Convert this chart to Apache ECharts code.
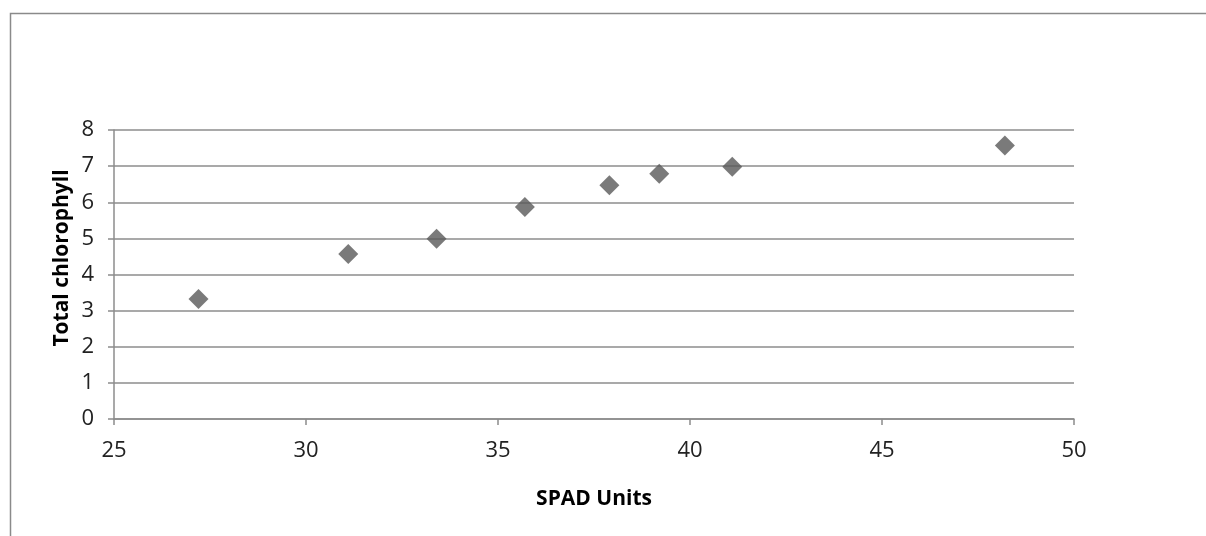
<!DOCTYPE html>
<html>
<head>
<meta charset="utf-8">
<script src="https://cdn.jsdelivr.net/npm/echarts@6/dist/echarts.min.js"></script>
<style>html,body{margin:0;padding:0;background:#fff;}#c{width:1206px;height:536px;}</style>
</head>
<body>
<div id="c"></div>
<script>
const spadUnits = [27.2, 31.1, 33.4, 35.7, 37.9, 39.2, 41.1, 48.2];
const totalChlorophyll = [3.32, 4.57, 4.99, 5.87, 6.47, 6.79, 6.98, 7.57];
const xTitle = 'SPAD Units';
const yTitle = 'Total chlorophyll';

const points = spadUnits.map((x, i) => [x, totalChlorophyll[i]]);
const font = '"Open Sans", "Liberation Sans", sans-serif';
const chart = echarts.init(document.getElementById('c'), null, {renderer: 'canvas'});
chart.setOption({
  animation: false,
  backgroundColor: '#fff',
  grid: {left: 114, right: 132, top: 130, bottom: 117, containLabel: false},
  graphic: [
    {type: 'rect', left: 8, top: 11, shape: {width: 1210, height: 540},
     style: {fill: 'none', stroke: '#8a8a8a', lineWidth: 1.5}, silent: true},
    {type: 'text', x: 62, y: 258, rotation: Math.PI / 2,
     style: {text: yTitle, font: 'bold 21px ' + font, fill: '#000', align: 'center', verticalAlign: 'middle'}}
  ],
  xAxis: {
    type: 'value', min: 25, max: 50, interval: 5,
    name: xTitle, nameLocation: 'middle', nameGap: 70,
    nameTextStyle: {fontFamily: font, fontWeight: 'bold', fontSize: 21, color: '#000'},
    axisLine: {show: true, lineStyle: {color: '#8c8c8c', width: 1.5}},
    axisTick: {show: true, length: 6, lineStyle: {color: '#8c8c8c', width: 1.5}},
    axisLabel: {fontFamily: font, fontSize: 22, color: '#222', margin: 21},
    splitLine: {show: false}
  },
  yAxis: {
    type: 'value', min: 0, max: 8, interval: 1,
    axisLine: {show: true, lineStyle: {color: '#8c8c8c', width: 1.5}},
    axisTick: {show: true, length: 6, lineStyle: {color: '#8c8c8c', width: 1.5}},
    axisLabel: {fontFamily: font, fontSize: 22, color: '#222', margin: 20},
    splitLine: {show: true, lineStyle: {color: '#8c8c8c', width: 1.5}}
  },
  series: [{
    type: 'scatter', data: points, symbol: 'diamond', symbolSize: 20,
    itemStyle: {color: '#595959'}
  }]
});
</script>
</body>
</html>
